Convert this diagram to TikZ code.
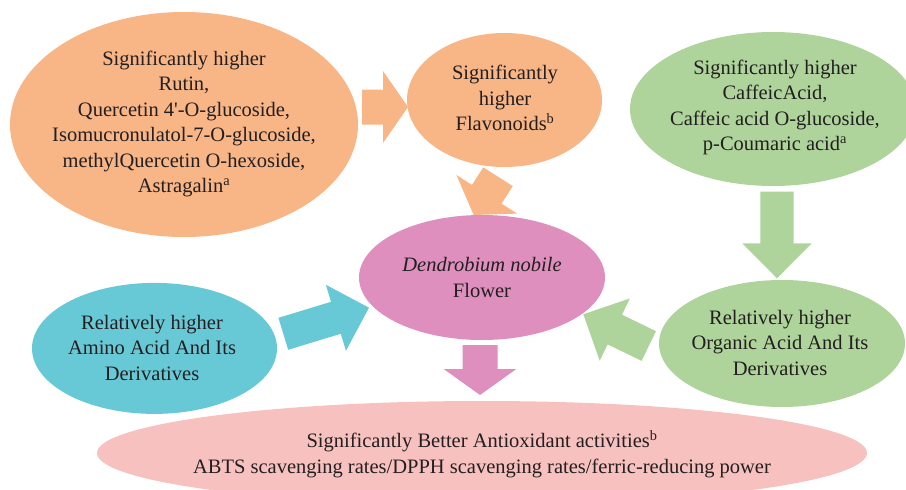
\documentclass[tikz,border=0pt]{standalone}
\usepackage{fontspec}
\setmainfont{Liberation Serif}
\usetikzlibrary{shapes.geometric,calc}
\definecolor{corange}{HTML}{F8B585}
\definecolor{cgreen}{HTML}{AED49B}
\definecolor{ccyan}{HTML}{68C9D6}
\definecolor{cpink}{HTML}{DE8FBE}
\definecolor{csalmon}{HTML}{F7C1BF}
\definecolor{ctext}{HTML}{231F20}
\tikzset{
  blob/.style={ellipse, draw=none, inner sep=0pt, outer sep=0pt},
  lbl/.style={align=center, font=\fontsize{20.5}{25.5}\selectfont, text=ctext, inner sep=0pt},
}
\newcommand{\bArrow}[6]{% #1 fill, #2 start, #3 end, #4 shaft half, #5 head half, #6 head length
  \coordinate (hb) at ($(#3)!#6!(#2)$);
  \fill[#1] ($(#2)!#4!90:(#3)$) -- ($(hb)!#4!90:(#3)$) -- ($(hb)!#5!90:(#3)$) -- (#3)
    -- ($(hb)!#5!-90:(#3)$) -- ($(hb)!#4!-90:(#3)$) -- ($(#2)!#4!-90:(#3)$) -- cycle;
}
\begin{document}
\begin{tikzpicture}[x=1pt,y=-1pt]
\useasboundingbox (0,0) rectangle (906,490);
% arrow end points
\coordinate (a1s) at (362,107);   \coordinate (a1e) at (408,107);
\coordinate (a2s) at (498,176.7); \coordinate (a2e) at (473.7,215);
\coordinate (a3s) at (777,191.7); \coordinate (a3e) at (777,278.3);
\coordinate (a4s) at (283.3,333.8); \coordinate (a4e) at (369,307.7);
\coordinate (a5s) at (648.8,346); \coordinate (a5e) at (583.3,314.3);
\coordinate (a6s) at (480,345);   \coordinate (a6e) at (480,395);
% block arrows
\bArrow{corange}{a1s}{a1e}{17.5pt}{36pt}{25pt}
\bArrow{corange}{a2s}{a2e}{17.5pt}{36pt}{24.5pt}
\bArrow{cgreen}{a3s}{a3e}{16.7pt}{34.7pt}{35pt}
\bArrow{ccyan}{a4s}{a4e}{16.7pt}{34.5pt}{34.6pt}
\bArrow{cgreen}{a5s}{a5e}{16.5pt}{34.6pt}{35pt}
\bArrow{cpink}{a6s}{a6e}{17.5pt}{36.3pt}{26pt}
% ellipses
\node[blob, fill=corange, minimum width=348pt, minimum height=225pt] (big) at (184,124.5) {};
\node[blob, fill=corange, minimum width=195pt, minimum height=134pt] (flav) at (504.5,100) {};
\node[blob, fill=cgreen, minimum width=286pt, minimum height=154pt] (caff) at (773,109) {};
\node[blob, fill=cpink, minimum width=246pt, minimum height=125pt] (flower) at (482,277.5) {};
\node[blob, fill=ccyan, minimum width=245pt, minimum height=131pt] (amino) at (154.5,348.4) {};
\node[blob, fill=cgreen, minimum width=246pt, minimum height=127pt] (organic) at (782,343.5) {};
\node[blob, fill=csalmon, minimum width=770pt, minimum height=104pt] (anti) at (482,453) {};
% texts
\node[lbl] (tbig) at (184,124) {Significantly higher\\Rutin,\\Quercetin 4\textquotesingle-O-glucoside,\\Isomucronulatol-7-O-glucoside,\\methylQuercetin O-hexoside,\\Astragalin\textsuperscript{a}};
\node[lbl] (tflav) at (505,98) {Significantly\\higher\\Flavonoids\textsuperscript{b}};
\node[lbl] (tcaff) at (775,107.5) {Significantly higher\\CaffeicAcid,\\Caffeic acid O-glucoside,\\p-Coumaric acid\textsuperscript{a}};
\node[lbl] (tflower) at (482,277.5) {\textit{Dendrobium nobile}\\Flower};
\node[lbl] (tamino) at (152,347.5) {Relatively higher\\Amino Acid And Its\\Derivatives};
\node[lbl] (torganic) at (780,342.5) {Relatively higher\\Organic Acid And Its\\Derivatives};
\node[lbl] (tanti) at (482,454) {Significantly Better Antioxidant activities\textsuperscript{b}\\ABTS scavenging rates/DPPH scavenging rates/ferric-reducing power};
\end{tikzpicture}
\end{document}
